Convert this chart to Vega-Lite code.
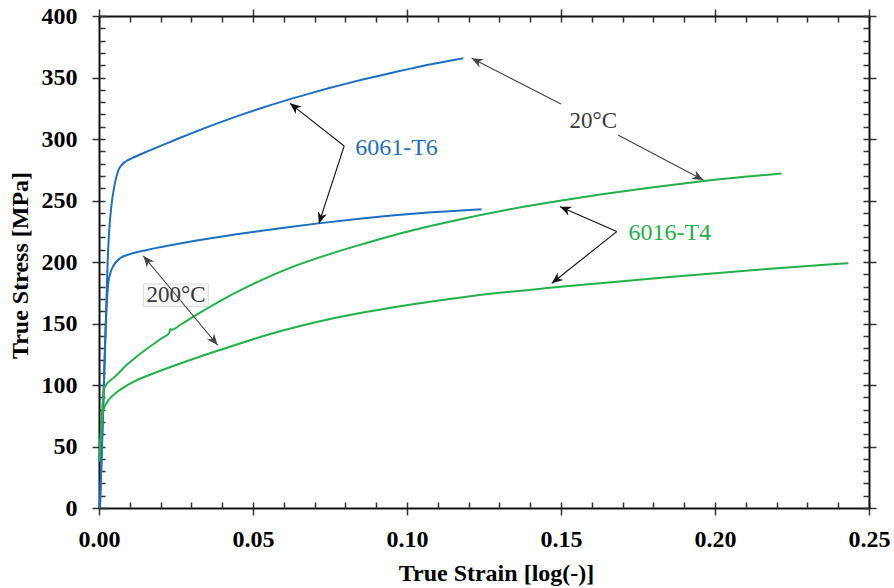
{
  "$schema": "https://vega.github.io/schema/vega-lite/v6.json",
  "width": 770,
  "height": 492,
  "autosize": {"type": "none"},
  "padding": {"left": 99, "top": 16, "right": 25, "bottom": 80},
  "background": "white",
  "config": {
    "view": {"stroke": null},
    "font": "Liberation Serif",
    "axis": {"labelFont": "Liberation Serif", "titleFont": "Liberation Serif", "grid": false}
  },
  "datasets": {
    "curves": [
      {"series": "6061-T6 20C", "strain": 0.0003, "stress": 0},
      {"series": "6061-T6 20C", "strain": 0.0009, "stress": 50},
      {"series": "6061-T6 20C", "strain": 0.0016, "stress": 100},
      {"series": "6061-T6 20C", "strain": 0.0022, "stress": 150},
      {"series": "6061-T6 20C", "strain": 0.0028, "stress": 200},
      {"series": "6061-T6 20C", "strain": 0.0033, "stress": 225},
      {"series": "6061-T6 20C", "strain": 0.0040, "stress": 245},
      {"series": "6061-T6 20C", "strain": 0.0050, "stress": 262},
      {"series": "6061-T6 20C", "strain": 0.0062, "stress": 274},
      {"series": "6061-T6 20C", "strain": 0.0074, "stress": 279},
      {"series": "6061-T6 20C", "strain": 0.0090, "stress": 282.3},
      {"series": "6061-T6 20C", "strain": 0.0106, "stress": 284.3},
      {"series": "6061-T6 20C", "strain": 0.0150, "stress": 289.2},
      {"series": "6061-T6 20C", "strain": 0.0204, "stress": 294.8},
      {"series": "6061-T6 20C", "strain": 0.0260, "stress": 300.6},
      {"series": "6061-T6 20C", "strain": 0.0312, "stress": 305.8},
      {"series": "6061-T6 20C", "strain": 0.0360, "stress": 310.5},
      {"series": "6061-T6 20C", "strain": 0.0420, "stress": 316},
      {"series": "6061-T6 20C", "strain": 0.0480, "stress": 321.2},
      {"series": "6061-T6 20C", "strain": 0.0528, "stress": 325.2},
      {"series": "6061-T6 20C", "strain": 0.0615, "stress": 332},
      {"series": "6061-T6 20C", "strain": 0.0680, "stress": 336.7},
      {"series": "6061-T6 20C", "strain": 0.0745, "stress": 341.2},
      {"series": "6061-T6 20C", "strain": 0.0800, "stress": 344.8},
      {"series": "6061-T6 20C", "strain": 0.0853, "stress": 348.1},
      {"series": "6061-T6 20C", "strain": 0.0910, "stress": 351.5},
      {"series": "6061-T6 20C", "strain": 0.0961, "stress": 354.4},
      {"series": "6061-T6 20C", "strain": 0.1015, "stress": 357.4},
      {"series": "6061-T6 20C", "strain": 0.1069, "stress": 360.3},
      {"series": "6061-T6 20C", "strain": 0.1130, "stress": 363.2},
      {"series": "6061-T6 20C", "strain": 0.1183, "stress": 365.6},
      {"series": "6061-T6 200C", "strain": 0.0003, "stress": 0},
      {"series": "6061-T6 200C", "strain": 0.0010, "stress": 50},
      {"series": "6061-T6 200C", "strain": 0.0019, "stress": 128.5},
      {"series": "6061-T6 200C", "strain": 0.0030, "stress": 182.7},
      {"series": "6061-T6 200C", "strain": 0.0038, "stress": 192},
      {"series": "6061-T6 200C", "strain": 0.0046, "stress": 196.5},
      {"series": "6061-T6 200C", "strain": 0.0068, "stress": 203},
      {"series": "6061-T6 200C", "strain": 0.0100, "stress": 206.3},
      {"series": "6061-T6 200C", "strain": 0.0149, "stress": 209.4},
      {"series": "6061-T6 200C", "strain": 0.0187, "stress": 211.5},
      {"series": "6061-T6 200C", "strain": 0.0250, "stress": 214.5},
      {"series": "6061-T6 200C", "strain": 0.0312, "stress": 217.2},
      {"series": "6061-T6 200C", "strain": 0.0400, "stress": 220.8},
      {"series": "6061-T6 200C", "strain": 0.0528, "stress": 225.4},
      {"series": "6061-T6 200C", "strain": 0.0620, "stress": 228.5},
      {"series": "6061-T6 200C", "strain": 0.0712, "stress": 231.4},
      {"series": "6061-T6 200C", "strain": 0.0853, "stress": 235.4},
      {"series": "6061-T6 200C", "strain": 0.0950, "stress": 237.8},
      {"series": "6061-T6 200C", "strain": 0.1069, "stress": 240.2},
      {"series": "6061-T6 200C", "strain": 0.1150, "stress": 241.5},
      {"series": "6061-T6 200C", "strain": 0.1242, "stress": 242.8},
      {"series": "6016-T4 20C", "strain": 0.0001, "stress": 38},
      {"series": "6016-T4 20C", "strain": 0.0008, "stress": 70},
      {"series": "6016-T4 20C", "strain": 0.0014, "stress": 92},
      {"series": "6016-T4 20C", "strain": 0.0019, "stress": 98.6},
      {"series": "6016-T4 20C", "strain": 0.0052, "stress": 106.8},
      {"series": "6016-T4 20C", "strain": 0.0095, "stress": 117.4},
      {"series": "6016-T4 20C", "strain": 0.0149, "stress": 128.3},
      {"series": "6016-T4 20C", "strain": 0.0204, "stress": 138},
      {"series": "6016-T4 20C", "strain": 0.0228, "stress": 142.3},
      {"series": "6016-T4 20C", "strain": 0.0231, "stress": 145.5},
      {"series": "6016-T4 20C", "strain": 0.0236, "stress": 145},
      {"series": "6016-T4 20C", "strain": 0.0268, "stress": 149.6},
      {"series": "6016-T4 20C", "strain": 0.0312, "stress": 156.4},
      {"series": "6016-T4 20C", "strain": 0.0409, "stress": 170.5},
      {"series": "6016-T4 20C", "strain": 0.0500, "stress": 182},
      {"series": "6016-T4 20C", "strain": 0.0620, "stress": 195.2},
      {"series": "6016-T4 20C", "strain": 0.0750, "stress": 206.5},
      {"series": "6016-T4 20C", "strain": 0.0869, "stress": 215.5},
      {"series": "6016-T4 20C", "strain": 0.0977, "stress": 223.2},
      {"series": "6016-T4 20C", "strain": 0.1194, "stress": 235.8},
      {"series": "6016-T4 20C", "strain": 0.1350, "stress": 243.6},
      {"series": "6016-T4 20C", "strain": 0.1497, "stress": 249.8},
      {"series": "6016-T4 20C", "strain": 0.1627, "stress": 254.8},
      {"series": "6016-T4 20C", "strain": 0.1800, "stress": 260.8},
      {"series": "6016-T4 20C", "strain": 0.1951, "stress": 265.5},
      {"series": "6016-T4 20C", "strain": 0.2216, "stress": 272},
      {"series": "6016-T4 200C", "strain": 0.0001, "stress": 38},
      {"series": "6016-T4 200C", "strain": 0.0006, "stress": 60},
      {"series": "6016-T4 200C", "strain": 0.0014, "stress": 79.7},
      {"series": "6016-T4 200C", "strain": 0.0025, "stress": 85.5},
      {"series": "6016-T4 200C", "strain": 0.0052, "stress": 93},
      {"series": "6016-T4 200C", "strain": 0.0095, "stress": 100.3},
      {"series": "6016-T4 200C", "strain": 0.0204, "stress": 112},
      {"series": "6016-T4 200C", "strain": 0.0310, "stress": 121.6},
      {"series": "6016-T4 200C", "strain": 0.0387, "stress": 128},
      {"series": "6016-T4 200C", "strain": 0.0545, "stress": 140.6},
      {"series": "6016-T4 200C", "strain": 0.0761, "stress": 154.2},
      {"series": "6016-T4 200C", "strain": 0.0977, "stress": 164},
      {"series": "6016-T4 200C", "strain": 0.1194, "stress": 171.8},
      {"series": "6016-T4 200C", "strain": 0.1464, "stress": 179},
      {"series": "6016-T4 200C", "strain": 0.1627, "stress": 182.8},
      {"series": "6016-T4 200C", "strain": 0.1843, "stress": 187.6},
      {"series": "6016-T4 200C", "strain": 0.2168, "stress": 194.3},
      {"series": "6016-T4 200C", "strain": 0.2433, "stress": 199}
    ],
    "arrows": [
      {"x0": 0.0796, "y0": 294.3, "x1": 0.062, "y1": 329, "kind": "material"},
      {"x0": 0.0796, "y0": 294.3, "x1": 0.0714, "y1": 231.4, "kind": "material"},
      {"x0": 0.150, "y0": 328.5, "x1": 0.121, "y1": 365.6, "kind": "temperature"},
      {"x0": 0.1685, "y0": 303.3, "x1": 0.1962, "y1": 266.7, "kind": "temperature"},
      {"x0": 0.1681, "y0": 224.7, "x1": 0.1497, "y1": 245, "kind": "material"},
      {"x0": 0.1681, "y0": 224.7, "x1": 0.147, "y1": 182.7, "kind": "material"},
      {"x0": 0.02645, "y0": 168.7, "x1": 0.0144, "y1": 204.9, "kind": "temperature"},
      {"x0": 0.02645, "y0": 168.7, "x1": 0.0385, "y1": 132.5, "kind": "temperature"}
    ],
    "materials": [
      {"label": "6061-T6", "x": 0.0966, "y": 292.7},
      {"label": "6016-T4", "x": 0.1853, "y": 223.3}
    ],
    "temps": [
      {"label": "20°C", "x": 0.1605, "y": 314.6},
      {"label": "200°C", "x": 0.025, "y": 172.8}
    ],
    "boxes": [
      {"x0": 0.0144, "x1": 0.0355, "y0": 163.7, "y1": 182.1}
    ]
  },
  "resolve": {
    "axis": {"x": "independent", "y": "independent"},
    "scale": {"color": "independent"}
  },
  "layer": [
    {
      "data": {"name": "curves"},
      "mark": {"type": "line", "strokeWidth": 2, "interpolate": "monotone"},
      "encoding": {
        "x": {
          "field": "strain", "type": "quantitative",
          "scale": {"domain": [0, 0.25], "nice": false, "zero": false},
          "axis": {
            "orient": "bottom", "values": [0, 0.05, 0.1, 0.15, 0.2, 0.25], "format": ".2f",
            "tickSize": 7, "tickWidth": 1.5, "tickColor": "#333",
            "domain": true, "domainColor": "#111", "domainWidth": 2,
            "labelFontWeight": "bold", "labelFontSize": 24, "labelColor": "black",
            "labelPadding": 12, "labelFlush": false, "labelOverlap": false,
            "title": "True Strain [log(-)]", "titleFontSize": 24, "titleFontWeight": "bold",
            "titleColor": "black", "titleX": 397, "titleY": 72, "titleBaseline": "alphabetic"
          }
        },
        "y": {
          "field": "stress", "type": "quantitative",
          "scale": {"domain": [0, 400], "nice": false},
          "axis": {
            "orient": "left", "values": [0, 50, 100, 150, 200, 250, 300, 350, 400], "format": "d",
            "tickSize": 7, "tickWidth": 1.5, "tickColor": "#333",
            "domain": true, "domainColor": "#111", "domainWidth": 2,
            "labelFontWeight": "bold", "labelFontSize": 24, "labelColor": "black",
            "labelPadding": 15, "labelFlush": false, "labelOverlap": false,
            "title": "True Stress [MPa]", "titleFontSize": 24, "titleFontWeight": "bold",
            "titleColor": "black", "titleX": -79, "titleY": 249, "titleBaseline": "middle", "titleAngle": -90
          }
        },
        "color": {
          "field": "series", "type": "nominal",
          "scale": {"domain": ["6061-T6 20C", "6061-T6 200C", "6016-T4 20C", "6016-T4 200C"], "range": ["#1f6fc0", "#1f6fc0", "#22b04a", "#22b04a"]},
          "legend": null
        }
      }
    },
    {
      "data": {"name": "curves"},
      "mark": {"type": "point", "opacity": 0},
      "encoding": {
        "x": {
          "field": "strain", "type": "quantitative",
          "scale": {"domain": [0, 0.25], "nice": false, "zero": false},
          "axis": {
            "orient": "bottom",
            "values": [0, 0.01, 0.02, 0.03, 0.04, 0.05, 0.06, 0.07, 0.08, 0.09, 0.1, 0.11, 0.12, 0.13, 0.14, 0.15, 0.16, 0.17, 0.18, 0.19, 0.2, 0.21, 0.22, 0.23, 0.24, 0.25],
            "tickSize": -6, "tickWidth": 1.5, "tickColor": "#333",
            "labels": false, "domain": false, "title": null
          }
        },
        "y": {
          "field": "stress", "type": "quantitative",
          "scale": {"domain": [0, 400], "nice": false},
          "axis": {
            "orient": "left",
            "values": [0, 10, 20, 30, 40, 50, 60, 70, 80, 90, 100, 110, 120, 130, 140, 150, 160, 170, 180, 190, 200, 210, 220, 230, 240, 250, 260, 270, 280, 290, 300, 310, 320, 330, 340, 350, 360, 370, 380, 390, 400],
            "tickSize": -6, "tickWidth": 1.5, "tickColor": "#333",
            "labels": false, "domain": false, "title": null
          }
        }
      }
    },
    {
      "data": {"name": "curves"},
      "mark": {"type": "point", "opacity": 0},
      "encoding": {
        "x": {
          "field": "strain", "type": "quantitative",
          "scale": {"domain": [0, 0.25], "nice": false, "zero": false},
          "axis": {
            "orient": "top", "values": [0, 0.05, 0.1, 0.15, 0.2, 0.25],
            "tickSize": 7, "tickWidth": 1.5, "tickColor": "#333",
            "labels": false, "domain": true, "domainColor": "#111", "domainWidth": 2, "title": null
          }
        },
        "y": {
          "field": "stress", "type": "quantitative",
          "scale": {"domain": [0, 400], "nice": false},
          "axis": {
            "orient": "right", "values": [0, 50, 100, 150, 200, 250, 300, 350, 400],
            "tickSize": 7, "tickWidth": 1.5, "tickColor": "#333",
            "labels": false, "domain": true, "domainColor": "#111", "domainWidth": 2, "title": null
          }
        }
      }
    },
    {
      "data": {"name": "curves"},
      "mark": {"type": "point", "opacity": 0},
      "encoding": {
        "x": {
          "field": "strain", "type": "quantitative",
          "scale": {"domain": [0, 0.25], "nice": false, "zero": false},
          "axis": {
            "orient": "top",
            "values": [0, 0.01, 0.02, 0.03, 0.04, 0.05, 0.06, 0.07, 0.08, 0.09, 0.1, 0.11, 0.12, 0.13, 0.14, 0.15, 0.16, 0.17, 0.18, 0.19, 0.2, 0.21, 0.22, 0.23, 0.24, 0.25],
            "tickSize": -6, "tickWidth": 1.5, "tickColor": "#333",
            "labels": false, "domain": false, "title": null
          }
        },
        "y": {
          "field": "stress", "type": "quantitative",
          "scale": {"domain": [0, 400], "nice": false},
          "axis": {
            "orient": "right",
            "values": [0, 10, 20, 30, 40, 50, 60, 70, 80, 90, 100, 110, 120, 130, 140, 150, 160, 170, 180, 190, 200, 210, 220, 230, 240, 250, 260, 270, 280, 290, 300, 310, 320, 330, 340, 350, 360, 370, 380, 390, 400],
            "tickSize": -6, "tickWidth": 1.5, "tickColor": "#333",
            "labels": false, "domain": false, "title": null
          }
        }
      }
    },
    {
      "data": {"name": "boxes"},
      "mark": {"type": "rect", "fill": "#f6f6f6", "fillOpacity": 0.85, "stroke": "#d9d9d9", "strokeWidth": 1},
      "encoding": {
        "x": {"field": "x0", "type": "quantitative", "axis": null},
        "x2": {"field": "x1"},
        "y": {"field": "y0", "type": "quantitative", "axis": null},
        "y2": {"field": "y1"}
      }
    },
    {
      "data": {"name": "arrows"},
      "mark": {"type": "rule", "strokeWidth": 1.1},
      "encoding": {
        "x": {"field": "x0", "type": "quantitative", "axis": null},
        "y": {"field": "y0", "type": "quantitative", "axis": null},
        "x2": {"field": "x1"},
        "y2": {"field": "y1"},
        "color": {"field": "kind", "type": "nominal", "scale": {"domain": ["material", "temperature"], "range": ["#111111", "#444444"]}, "legend": null}
      }
    },
    {
      "data": {"name": "arrows"},
      "transform": [
        {"calculate": "atan2((datum.x1 - datum.x0) * 3080, (datum.y1 - datum.y0) * 1.23) * 180 / PI", "as": "ang"}
      ],
      "mark": {"type": "point", "shape": "M0,0L0.42,1L0,0.7L-0.42,1Z", "filled": true, "size": 500, "opacity": 1, "strokeWidth": 0},
      "encoding": {
        "x": {"field": "x1", "type": "quantitative", "axis": null},
        "y": {"field": "y1", "type": "quantitative", "axis": null},
        "angle": {"field": "ang", "type": "quantitative", "scale": null},
        "color": {"field": "kind", "type": "nominal", "scale": {"domain": ["material", "temperature"], "range": ["#111111", "#444444"]}, "legend": null}
      }
    },
    {
      "data": {"name": "materials"},
      "mark": {"type": "text", "font": "Liberation Serif", "fontSize": 24, "align": "center", "baseline": "middle"},
      "encoding": {
        "x": {"field": "x", "type": "quantitative", "axis": null},
        "y": {"field": "y", "type": "quantitative", "axis": null},
        "text": {"field": "label"},
        "color": {"field": "label", "type": "nominal", "scale": {"domain": ["6061-T6", "6016-T4"], "range": ["#1f6fc0", "#22b04a"]}, "legend": null}
      }
    },
    {
      "data": {"name": "temps"},
      "mark": {"type": "text", "font": "Liberation Serif", "fontSize": 23, "align": "center", "baseline": "middle", "color": "#3a3a3a"},
      "encoding": {
        "x": {"field": "x", "type": "quantitative", "axis": null},
        "y": {"field": "y", "type": "quantitative", "axis": null},
        "text": {"field": "label"}
      }
    }
  ]
}
